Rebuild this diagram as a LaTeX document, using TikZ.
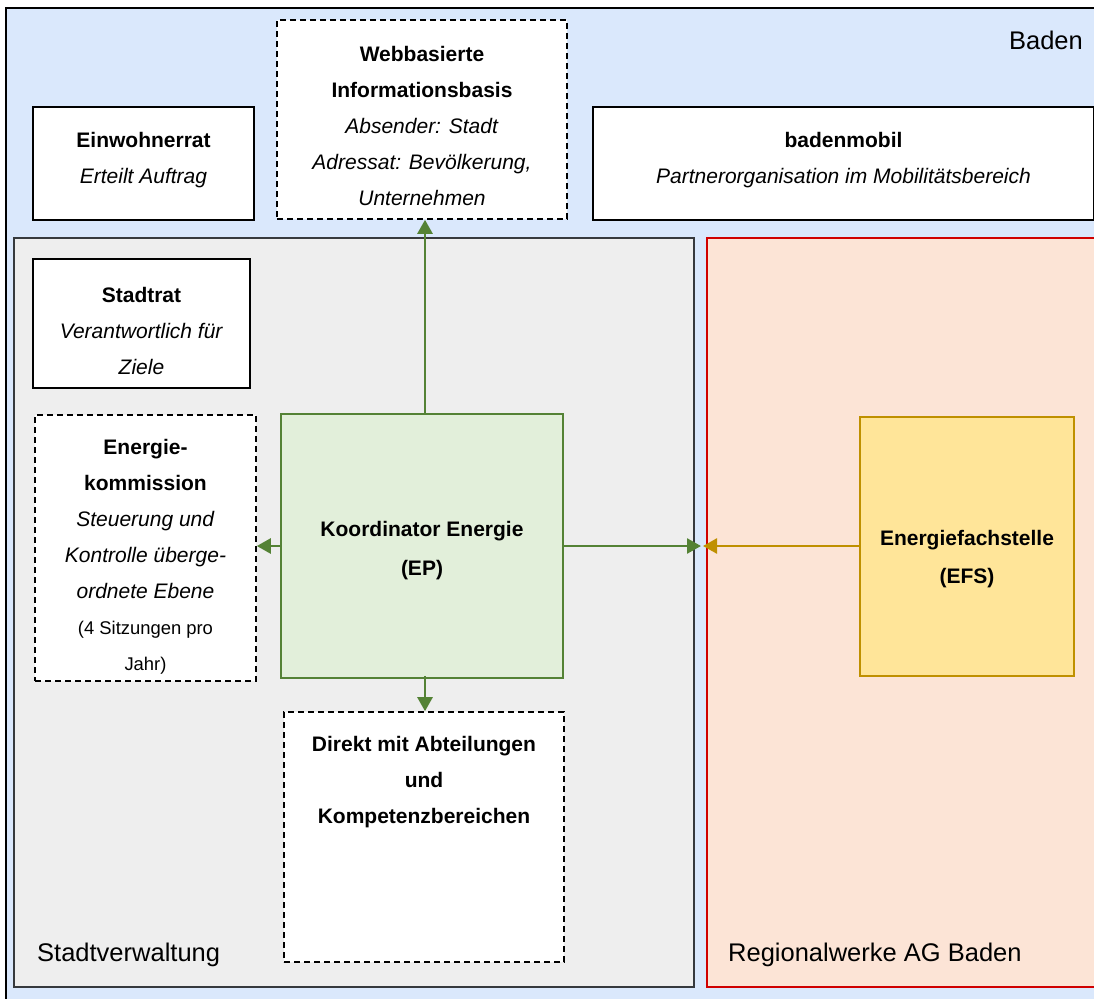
\documentclass[tikz,border=0pt]{standalone}
\usepackage{fontspec}
\setmainfont{Liberation Sans}
\usetikzlibrary{arrows.meta}
\definecolor{badenblue}{HTML}{DAE8FC}
\definecolor{svgray}{HTML}{EEEEEE}
\definecolor{svborder}{HTML}{36393D}
\definecolor{rwfill}{HTML}{FCE4D6}
\definecolor{rwborder}{HTML}{D00000}
\definecolor{kofill}{HTML}{E2EFDA}
\definecolor{koborder}{HTML}{548235}
\definecolor{efsfill}{HTML}{FFE599}
\definecolor{efsborder}{HTML}{BF9000}
\begin{document}
\begin{tikzpicture}[x=1pt,y=-1pt,
  box/.style={draw=black, line width=1.6pt, fill=white, inner sep=0pt},
  dbox/.style={box, dash pattern=on 6pt off 4pt},
  txt/.style={inner sep=0pt, align=center, font=\fontsize{21}{36}\selectfont},
  wtxt/.style={inner sep=0pt, align=center, font=\fontsize{21}{38.5}\selectfont},
  lbl/.style={inner sep=0pt, font=\fontsize{25.5}{30}\selectfont},
  garrow/.style={draw=koborder, line width=2.6pt, -{Triangle[length=14pt,width=15pt]}},
  oarrow/.style={draw=efsborder, line width=2.6pt, -{Triangle[length=14pt,width=15pt]}},
]
\useasboundingbox (0,0) rectangle (1094,998);
\clip (0,0) rectangle (1094,998);
% Baden
\draw[fill=badenblue, line width=1.6pt] (6,8) rectangle (1130,1030);
\node[lbl, anchor=east] (badenlbl) at (1083,40) {Baden};
% Stadtverwaltung and Regionalwerke
\draw[fill=svgray, draw=svborder, line width=1.6pt] (14,238) rectangle (694,987);
\draw[fill=rwfill, draw=rwborder, line width=1.6pt] (707,238) rectangle (1130,987);
\node[lbl, anchor=west] (svlbl) at (37,955) {Stadtverwaltung};
\node[lbl, anchor=west] (rwlbl) at (728,955) {Regionalwerke AG Baden};
% top boxes
\node[box, minimum width=221pt, minimum height=113pt] (ein) at (143.5,163.5) {};
\node[txt] (eintxt) at ([yshift=3pt]ein.center)
  {\textbf{Einwohnerrat}\\\textit{Erteilt Auftrag}};
\node[dbox, minimum width=290pt, minimum height=199pt] (web) at (422,119.5) {};
\node[txt] (webtxt) at ([yshift=-6pt]web.center)
  {\textbf{Webbasierte}\\\textbf{Informationsbasis}\\\textit{Absender: Stadt}\\\textit{Adressat: Bevölkerung,}\\\textit{Unternehmen}};
\node[box, minimum width=501pt, minimum height=113pt] (bm) at (843.5,163.5) {};
\node[txt] (bmtxt) at ([yshift=3pt]bm.center)
  {\textbf{badenmobil}\\\textit{Partnerorganisation im Mobilitätsbereich}};
% Stadtverwaltung content
\node[box, minimum width=217pt, minimum height=129pt] (sr) at (141.5,323.5) {};
\node[txt] (srtxt) at ([yshift=-7pt]sr.center)
  {\textbf{Stadtrat}\\\textit{Verantwortlich für}\\\textit{Ziele}};
\node[dbox, minimum width=221pt, minimum height=266pt] (ek) at (145.5,548) {};
\node[txt] (ektxt) at ([yshift=-9pt]ek.center)
  {\textbf{Energie-}\\\textbf{kommission}\\\textit{Steuerung und}\\\textit{Kontrolle überge-}\\\textit{ordnete Ebene}\\{\fontsize{18.4}{36}\selectfont(4 Sitzungen pro}\\{\fontsize{18.4}{36}\selectfont Jahr)}};
\node[box, draw=koborder, fill=kofill, minimum width=282pt, minimum height=264pt] (ko) at (422,546) {};
\node[wtxt] (kotxt) at ([yshift=-4.5pt]ko.center)
  {\textbf{Koordinator Energie}\\\textbf{(EP)}};
\node[dbox, minimum width=280pt, minimum height=250pt] (dir) at (424,837) {};
\node[txt, anchor=north] (dirtxt) at (424,736)
  {\textbf{Direkt mit Abteilungen}\\\textbf{und}\\\textbf{Kompetenzbereichen}};
% Regionalwerke content
\node[box, draw=efsborder, fill=efsfill, minimum width=214pt, minimum height=259pt] (efs) at (967,546.5) {};
\node[wtxt] (efstxt) at ([yshift=-12.5pt]efs.center)
  {\textbf{Energiefachstelle}\\\textbf{(EFS)}};
\coordinate (meet) at (701,546);
% connectors
\draw[garrow] (ko.north -| 425,0) -- (web.south -| 425,0);
\draw[garrow] (ko.west) -- (ko.west -| ek.east);
\draw[garrow] (ko.east) -- (meet);
\draw[oarrow] (efs.west |- meet) -- ([xshift=2pt]meet);
\draw[garrow] ([yshift=3pt]ko.south -| 425,0) -- (dir.north -| 425,0);
\end{tikzpicture}
\end{document}
